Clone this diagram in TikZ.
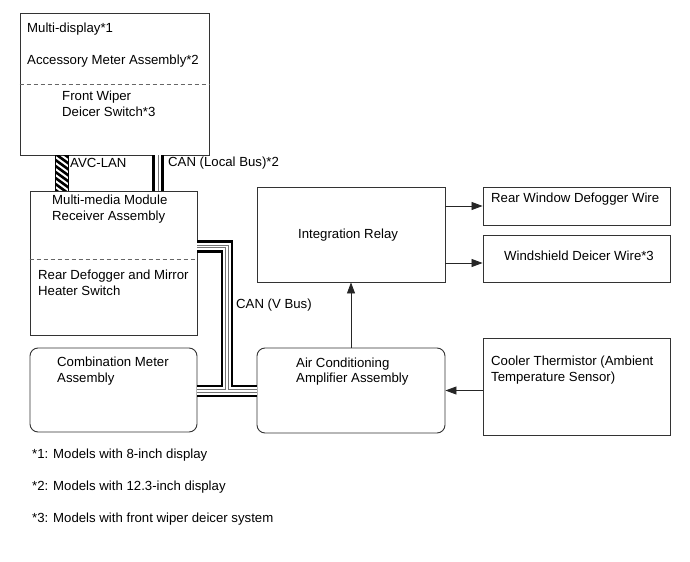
\documentclass[tikz,border=0pt]{standalone}
\usepackage{fontspec}
\setmainfont{Liberation Sans}
\usetikzlibrary{arrows.meta}

\tikzset{
  box/.style={draw=black!80, line width=0.9bp, inner sep=0pt},
  rbox/.style={box, rounded corners=8bp},
  txt/.style={anchor=west, align=left, inner sep=0pt,
    font=\fontsize{13.2bp}{15.6bp}\selectfont},
  divider/.style={draw=black!60, line width=0.9bp, dash pattern=on 4bp off 3bp},
  arr/.style={draw=black!85, line width=0.8bp, -{Triangle[length=11bp,width=8bp]}}
}

\begin{document}
\begin{tikzpicture}[x=1bp,y=-1bp]
\useasboundingbox (0,0) rectangle (690,562);

% ===== Boxes =====
\node[box, minimum width=189bp, minimum height=142bp] (mdisp) at (114.5,84) {};
\node[box, minimum width=167bp, minimum height=144bp] (mmod) at (113.5,263) {};
\node[rbox, minimum width=167bp, minimum height=84bp] (cmeter) at (113.5,390) {};
\node[box, minimum width=188bp, minimum height=95bp] (relay) at (351,234.5) {};
\node[rbox, minimum width=188bp, minimum height=85bp] (acamp) at (351,390.5) {};
\node[box, minimum width=187bp, minimum height=38bp] (rwd) at (576.5,206) {};
\node[box, minimum width=187bp, minimum height=47bp] (wdw) at (576.5,258.5) {};
\node[box, minimum width=187bp, minimum height=97bp] (cooler) at (576.5,386.5) {};

% dashed dividers
\draw[divider] (mdisp.west |- 0,84.5) -- (mdisp.east |- 0,84.5);
\draw[divider] (mmod.west |- 0,259) -- (mmod.east |- 0,259);

% ===== Texts =====
\node[txt] (tdisp) at (27,29) {Multi-display*1};
\node[txt] (tacc) at (27,61) {Accessory Meter Assembly*2};
\node[txt] (twiper) at (62,104) {Front Wiper\\Deicer Switch*3};
\node[txt] (tmmod) at (52,209) {Multi-media Module\\Receiver Assembly};
\node[txt] (tdefog) at (38,282.5) {Rear Defogger and Mirror\\Heater Switch};
\node[txt] (tcmeter) at (57,371) {Combination Meter\\Assembly};
\node[txt] (trelay) at (298,235) {Integration Relay};
\node[txt] (tacamp) at (296,371.5) {Air Conditioning\\Amplifier Assembly};
\node[txt] (trwd) at (491,199) {Rear Window Defogger Wire};
\node[txt] (twdw) at (504,255.5) {Windshield Deicer Wire*3};
\node[txt] (tcooler) at (491,370) {Cooler Thermistor (Ambient\\Temperature Sensor)};

% bus labels
\node[txt] (lavc) at (70,163) {AVC-LAN};
\node[txt] (llocal) at (168,163) {CAN (Local Bus)*2};
\node[txt] (lvbus) at (236,305.5) {CAN (V Bus)};

% footnotes
\node[txt] (note1) at (32,455) {*1: Models with 8-inch display};
\node[txt] (note2) at (32,487) {*2: Models with 12.3-inch display};
\node[txt] (note3) at (32,519) {*3: Models with front wiper deicer system};

% ===== AVC-LAN (hatched) =====
\coordinate (avcA) at (55,0);
\coordinate (avcB) at (68,0);
\begin{scope}
  \clip (mdisp.south -| avcA) rectangle (mmod.north -| avcB);
  \foreach \k in {-2,...,7} {
    \draw[line width=2.6bp] (50,150+6*\k) -- ++(22,16);
  }
\end{scope}
\draw[line width=1bp] (mdisp.south -| avcA) -- (mmod.north -| avcA)
  (mdisp.south -| avcB) -- (mmod.north -| avcB);

% ===== CAN (Local Bus) =====
\coordinate (lbus) at (158,0);
\foreach \w/\c in {12/black, 6.5/white, 1/black!55} {
  \draw[\c, line width=\w bp] (mdisp.south -| lbus) -- (mmod.north -| lbus);
}

% ===== CAN (V Bus) =====
\coordinate (vtop) at (227,246.5);
\coordinate (vbot) at (227,391);
\foreach \w/\c in {12.5/black, 7.5/white, 3.6/black!55, 1.6/white} {
  \draw[\c, line width=\w bp, line join=miter]
    (mmod.east |- vtop) -- (vtop) -- (vbot)
    (cmeter.east |- vbot) -- (acamp.west |- vbot);
}

% ===== Arrows =====
\draw[arr] (relay.east |- rwd.west) -- (rwd.west);
\draw[arr] ([yshift=-4.5bp]relay.east |- wdw.west) -- ([yshift=-4.5bp]wdw.west);
\draw[arr] (acamp.north) -- (relay.south);
\draw[arr] (cooler.west |- acamp.east) -- (acamp.east);

\end{tikzpicture}
\end{document}
